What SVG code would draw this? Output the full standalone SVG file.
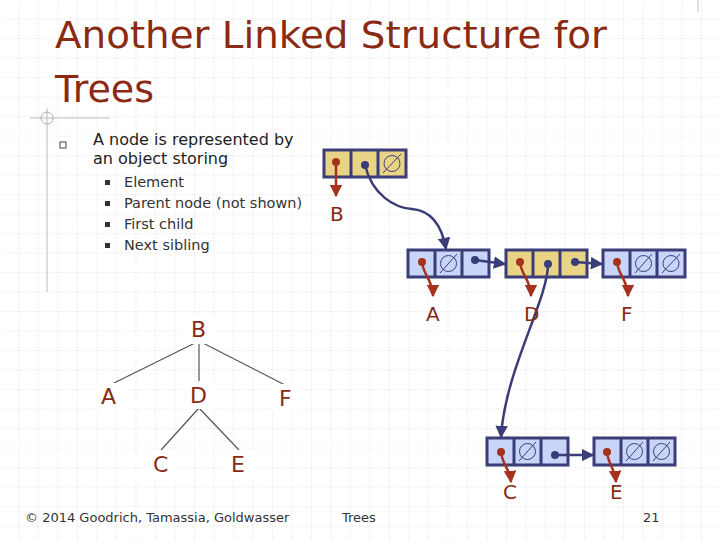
<svg xmlns="http://www.w3.org/2000/svg" width="720" height="540" viewBox="0 0 720 540">
<defs>
<pattern id="grid" width="19.5" height="19.5" patternUnits="userSpaceOnUse">
<path d="M19.5 0V19.5H0" fill="none" stroke="#d8d8d8" stroke-width="1" stroke-dasharray="1.5 1.5"/>
</pattern>
<marker id="ab" viewBox="0 0 10 10" refX="9" refY="5" markerWidth="5" markerHeight="5" orient="auto"><path d="M0 0L10 5L0 10z" fill="#3a3d78"/></marker>
<marker id="ar" viewBox="0 0 10 10" refX="9" refY="5" markerWidth="5" markerHeight="5" orient="auto"><path d="M0 0L10 5L0 10z" fill="#a4321c"/></marker>
</defs>
<style>
.t{font-family:"DejaVu Sans",sans-serif}
.title{font-size:38px;fill:#8b2a12}
.body{font-size:16px;fill:#222}
.sub{font-size:14.5px;fill:#333}
.lab{font-size:20px;fill:#8b2a12}
.tree{font-size:22px;fill:#8b2a12}
.c{stroke:#3a3d78;stroke-width:3}
.blue{fill:#c8d4f8}
.yel{fill:#e9d486}
.nul{fill:none;stroke:#3a3d78;stroke-width:1}
.bl{fill:none;stroke:#3a3d78;stroke-width:2.5}
.rd{fill:none;stroke:#a4321c;stroke-width:2.5}
.tl{stroke:#555;stroke-width:1.2}
</style>
<rect width="720" height="540" fill="#fff"/>
<rect width="720" height="540" fill="url(#grid)"/>
<line x1="47" y1="108" x2="47" y2="292" stroke="#bbb" stroke-width="1"/>
<line x1="30" y1="118" x2="110" y2="118" stroke="#bbb" stroke-width="1"/>
<circle cx="47" cy="118" r="6" fill="none" stroke="#aaa"/>
<line x1="698" y1="0" x2="698" y2="12" stroke="#bbb"/>
<text class="t title" x="55" y="48" textLength="552" lengthAdjust="spacingAndGlyphs">Another Linked Structure for</text>
<text class="t title" x="55" y="102">Trees</text>
<rect x="60" y="142" width="6" height="6" fill="none" stroke="#444"/>
<text class="t body" x="93" y="145">A node is represented by</text>
<text class="t body" x="93" y="164">an object storing</text>
<g fill="#333"><rect x="105" y="180" width="5" height="5"/><rect x="105" y="201" width="5" height="5"/><rect x="105" y="222" width="5" height="5"/><rect x="105" y="243" width="5" height="5"/></g>
<text class="t sub" x="124" y="187">Element</text>
<text class="t sub" x="124" y="208">Parent node (not shown)</text>
<text class="t sub" x="124" y="229">First child</text>
<text class="t sub" x="124" y="250">Next sibling</text>

<g id="nodeB">
<rect x="324" y="150" width="82" height="27" class="yel c"/>
<line x1="351" y1="150" x2="351" y2="177" class="c"/><line x1="378" y1="150" x2="378" y2="177" class="c"/>
<circle cx="392" cy="163.5" r="8" class="nul"/><line x1="383" y1="173" x2="401" y2="154" class="nul"/>
</g>
<g id="nodeA">
<rect x="408" y="250" width="81" height="27" class="blue c"/>
<line x1="435" y1="250" x2="435" y2="277" class="c"/><line x1="462" y1="250" x2="462" y2="277" class="c"/>
<circle cx="448.5" cy="263.5" r="8" class="nul"/><line x1="440" y1="273" x2="457" y2="254" class="nul"/>
</g>
<g id="nodeD">
<rect x="506" y="250" width="81" height="27" class="yel c"/>
<line x1="533" y1="250" x2="533" y2="277" class="c"/><line x1="560" y1="250" x2="560" y2="277" class="c"/>
</g>
<g id="nodeF">
<rect x="603" y="250" width="82" height="27" class="blue c"/>
<line x1="630" y1="250" x2="630" y2="277" class="c"/><line x1="657" y1="250" x2="657" y2="277" class="c"/>
<circle cx="643.5" cy="263.5" r="8" class="nul"/><line x1="635" y1="273" x2="652" y2="254" class="nul"/>
<circle cx="671" cy="263.5" r="8" class="nul"/><line x1="662" y1="273" x2="680" y2="254" class="nul"/>
</g>
<g id="nodeC">
<rect x="487" y="438" width="81" height="27" class="blue c"/>
<line x1="514" y1="438" x2="514" y2="465" class="c"/><line x1="541" y1="438" x2="541" y2="465" class="c"/>
<circle cx="527.5" cy="451.5" r="8" class="nul"/><line x1="519" y1="461" x2="536" y2="442" class="nul"/>
</g>
<g id="nodeE">
<rect x="594" y="438" width="81" height="27" class="blue c"/>
<line x1="621" y1="438" x2="621" y2="465" class="c"/><line x1="648" y1="438" x2="648" y2="465" class="c"/>
<circle cx="634.5" cy="451.5" r="8" class="nul"/><line x1="626" y1="461" x2="643" y2="442" class="nul"/>
<circle cx="661.5" cy="451.5" r="8" class="nul"/><line x1="653" y1="461" x2="670" y2="442" class="nul"/>
</g>

<g id="connectors">
<g fill="#3a3d78">
<circle cx="365" cy="165" r="4"/><circle cx="475" cy="260" r="4"/><circle cx="548" cy="264" r="4"/><circle cx="575" cy="262" r="4"/><circle cx="555" cy="455" r="4"/>
</g>
<g fill="#a4321c">
<circle cx="336" cy="162" r="4"/><circle cx="422" cy="262" r="4"/><circle cx="520" cy="262" r="4"/><circle cx="617" cy="262" r="4"/><circle cx="501" cy="452" r="4"/><circle cx="607" cy="452" r="4"/>
</g>
<path d="M365 165C372 195 395 208 412 209C435 211 443 232 446 249" class="bl" marker-end="url(#ab)"/>
<path d="M475 260L505 264" class="bl" marker-end="url(#ab)"/>
<path d="M575 262L602 264" class="bl" marker-end="url(#ab)"/>
<path d="M548 264C548 300 505 370 501 437" class="bl" marker-end="url(#ab)"/>
<path d="M555 455L593 455" class="bl" marker-end="url(#ab)"/>
<path d="M336 162L336 196" class="rd" marker-end="url(#ar)"/>
<path d="M422 262C423 275 433 280 433 296" class="rd" marker-end="url(#ar)"/>
<path d="M520 262C521 275 531 280 531 296" class="rd" marker-end="url(#ar)"/>
<path d="M617 262C618 275 628 280 628 296" class="rd" marker-end="url(#ar)"/>
<path d="M501 452C502 464 510 469 511 482" class="rd" marker-end="url(#ar)"/>
<path d="M607 452C608 464 615 469 616 482" class="rd" marker-end="url(#ar)"/>
<line x1="199" y1="341" x2="110" y2="385" class="tl"/>
<line x1="199" y1="341" x2="199" y2="383" class="tl"/>
<line x1="199" y1="341" x2="285" y2="385" class="tl"/>
<line x1="199" y1="408" x2="161" y2="450" class="tl"/>
<line x1="199" y1="408" x2="239" y2="450" class="tl"/>
</g>
<text class="t lab" x="330" y="221">B</text>
<text class="t lab" x="426" y="321">A</text>
<text class="t lab" x="524" y="321">D</text>
<text class="t lab" x="621" y="321">F</text>
<text class="t lab" x="503" y="499">C</text>
<text class="t lab" x="610" y="499">E</text>
<g id="tree">
<rect x="180" y="316" width="36" height="28" fill="#fff"/>
<text class="t tree" x="191" y="337">B</text>
<rect x="96" y="383" width="30" height="28" fill="#fff"/>
<text class="t tree" x="101" y="404">A</text>
<rect x="185" y="381" width="30" height="28" fill="#fff"/>
<text class="t tree" x="190" y="403">D</text>
<rect x="272" y="384" width="30" height="28" fill="#fff"/>
<text class="t tree" x="279" y="406">F</text>
<rect x="148" y="450" width="28" height="28" fill="#fff"/>
<text class="t tree" x="153" y="472">C</text>
<rect x="226" y="450" width="28" height="28" fill="#fff"/>
<text class="t tree" x="231" y="472">E</text>
</g>
<text class="t" x="25" y="522" font-size="13" fill="#333">© 2014 Goodrich, Tamassia, Goldwasser</text>
<text class="t" x="342" y="522" font-size="13" fill="#333">Trees</text>
<text class="t" x="643" y="522" font-size="13" fill="#333">21</text>
</svg>
